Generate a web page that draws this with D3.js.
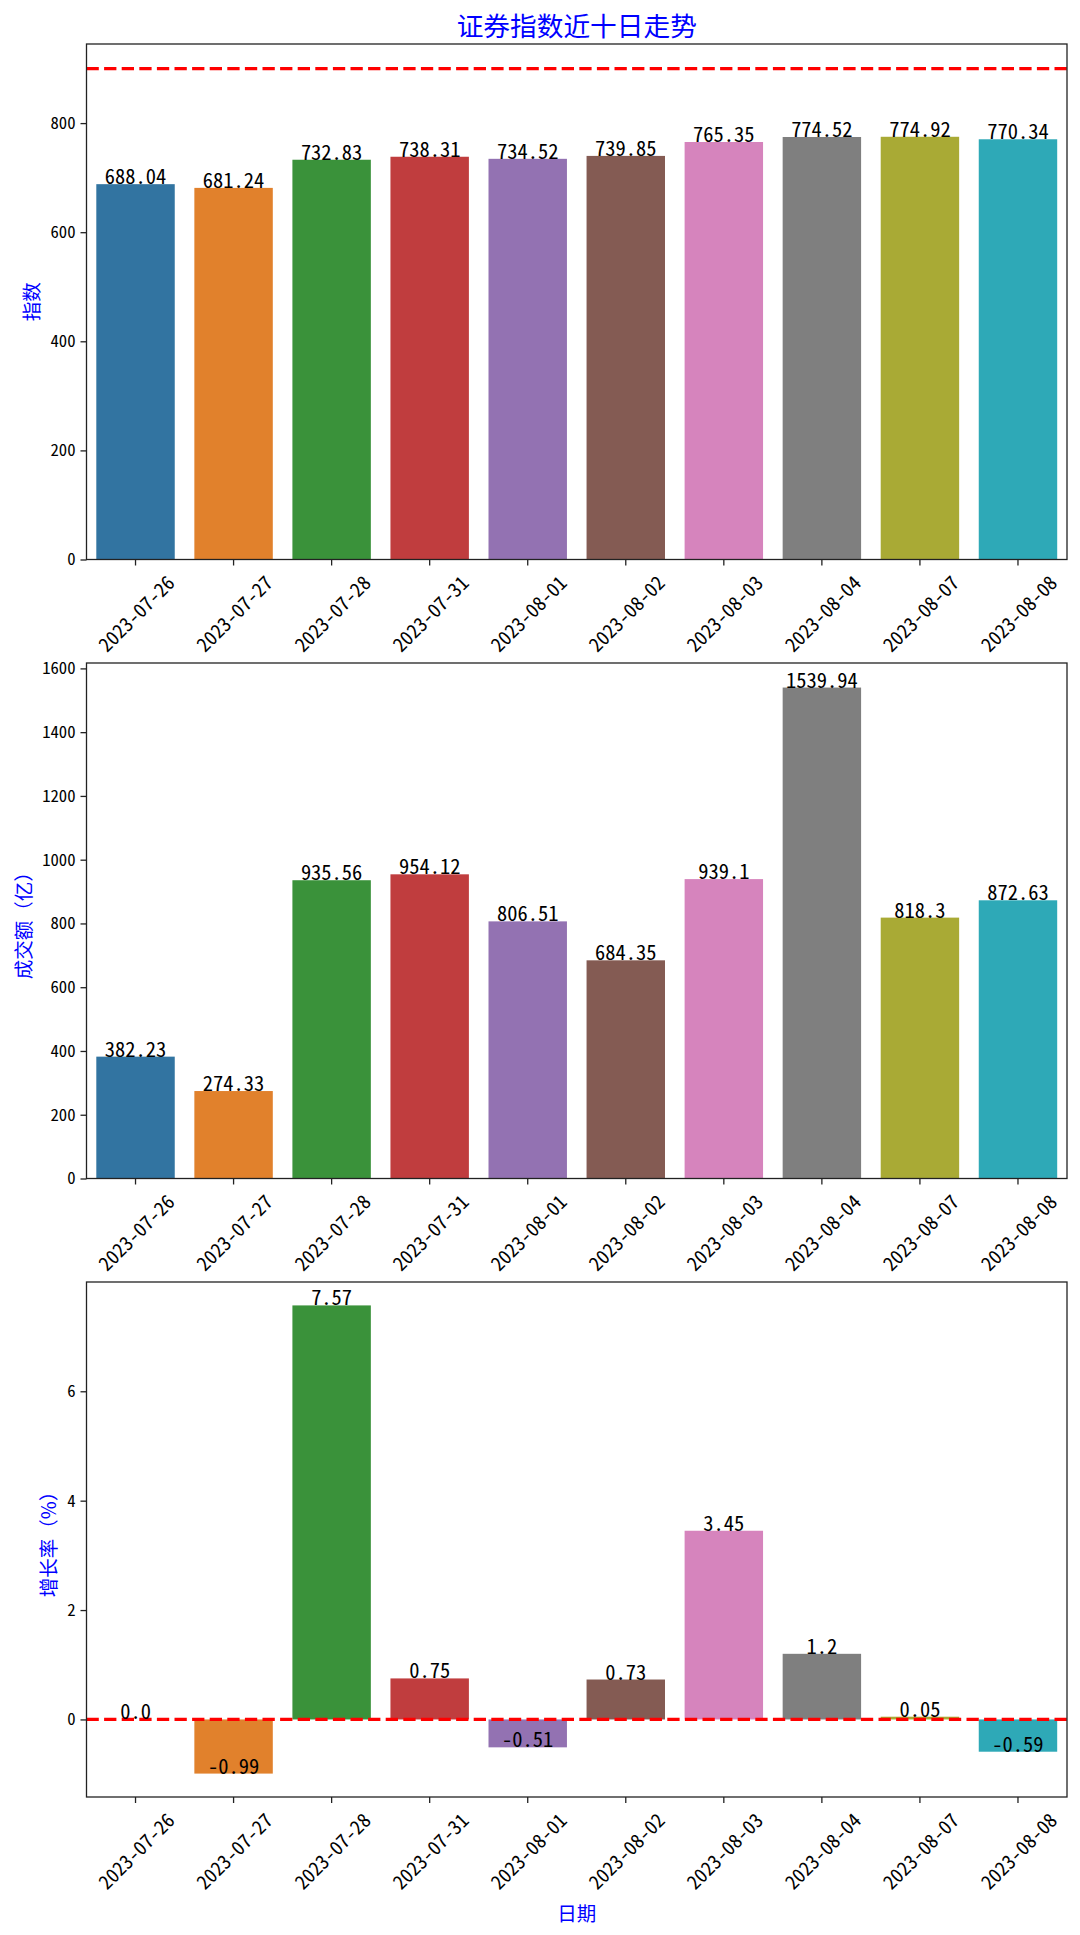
<!DOCTYPE html>
<html>
<head>
<meta charset="utf-8">
<script src="https://cdn.jsdelivr.net/npm/d3@7"></script>
<style>
  html, body { margin: 0; padding: 0; background: #fff; }
  svg text { font-family: "Noto Sans CJK SC", "Noto Sans", sans-serif; }
  svg text.num, svg .tick text { font-feature-settings: "hwid" 1; }
</style>
</head>
<body>
<svg id="chart" width="1080" height="1935"></svg>
<script>
// ---- data ----
const dates = ["2023-07-26","2023-07-27","2023-07-28","2023-07-31","2023-08-01","2023-08-02","2023-08-03","2023-08-04","2023-08-07","2023-08-08"];
const indexValues = [688.04, 681.24, 732.83, 738.31, 734.52, 739.85, 765.35, 774.52, 774.92, 770.34];
const volumeValues = [382.23, 274.33, 935.56, 954.12, 806.51, 684.35, 939.1, 1539.94, 818.3, 872.63];
const growthValues = [0.0, -0.99, 7.57, 0.75, -0.51, 0.73, 3.45, 1.2, 0.05, -0.59];
const indexTicks = [0, 200, 400, 600, 800];
const volumeTicks = [0, 200, 400, 600, 800, 1000, 1200, 1400, 1600];
const growthTicks = [0, 2, 4, 6];
const indexRefLine = 900;
const growthRefLine = 0;
const barColors = ["#3274a1","#e1812c","#3a923a","#c03d3e","#9372b2","#845b53","#d684bd","#7f7f7f","#a9aa35","#2ea9b7"];
const titleText = "证券指数近十日走势";
const yLabels = ["指数", "成交额（亿）", "增长率（%）"];
const xLabelText = "日期";

// ---- layout ----
const svg = d3.select("#chart");
const left = 86.5, right = 1067;
const panels = [
  { top: 44, bottom: 559.5, values: indexValues, ticks: indexTicks, ref: indexRefLine, label: yLabels[0] },
  { top: 663, bottom: 1178.5, values: volumeValues, ticks: volumeTicks, ref: null, label: yLabels[1] },
  { top: 1282, bottom: 1797, values: growthValues, ticks: growthTicks, ref: growthRefLine, label: yLabels[2] }
];
const xTickFont = 19.5;

function pyStr(v) { return Number.isInteger(v) ? v.toFixed(1) : String(v); }

const x = d3.scaleBand().domain(dates).range([left, right]).paddingInner(0.2).paddingOuter(0.1);

panels.forEach((p) => {
  const vals = p.values.slice();
  if (p.ref !== null) vals.push(p.ref);
  const dataLo = d3.min(vals), dataHi = d3.max(vals);
  let dLo, dHi;
  if (dataLo < 0) {
    const r = dataHi - dataLo;
    dLo = dataLo - 0.05 * r; dHi = dataHi + 0.05 * r;
  } else {
    dLo = 0; dHi = dataHi * 1.05;
  }
  const y = d3.scaleLinear().domain([dLo, dHi]).range([p.bottom, p.top]);
  const g = svg.append("g");

  // bars
  g.selectAll("rect.bar").data(p.values).enter().append("rect")
    .attr("class", "bar")
    .attr("x", (d, i) => x(dates[i]))
    .attr("width", x.bandwidth())
    .attr("y", d => Math.min(y(d), y(0)))
    .attr("height", d => Math.abs(y(d) - y(0)))
    .attr("fill", (d, i) => barColors[i]);

  // reference line
  if (p.ref !== null) {
    g.append("line")
      .attr("x1", left).attr("x2", right)
      .attr("y1", y(p.ref)).attr("y2", y(p.ref))
      .attr("stroke", "#ff0000").attr("stroke-width", 3.3)
      .attr("stroke-dasharray", "12.3,5.3");
  }

  // value labels
  g.selectAll("text.val").data(p.values).enter().append("text")
    .attr("class", "val num")
    .attr("x", (d, i) => x(dates[i]) + x.bandwidth() / 2)
    .attr("y", d => y(d))
    .attr("text-anchor", "middle")
    .attr("font-size", 20.5)
    .attr("fill", "#000")
    .text(d => pyStr(d));

  // y axis
  const yAxis = g.append("g")
    .attr("transform", `translate(${left},0)`)
    .call(d3.axisLeft(y).tickValues(p.ticks).tickSize(6).tickPadding(5).tickFormat(d3.format("d")));
  yAxis.select(".domain").remove();
  yAxis.selectAll(".tick line").attr("stroke", "#222").attr("stroke-width", 1.3);
  yAxis.selectAll(".tick text").attr("font-size", 16.7).attr("fill", "#000").attr("font-family", null);

  // x axis
  const xAxis = g.append("g")
    .attr("transform", `translate(0,${p.bottom})`)
    .call(d3.axisBottom(x).tickSize(6).tickFormat(""));
  xAxis.select(".domain").remove();
  xAxis.selectAll(".tick line").attr("stroke", "#222").attr("stroke-width", 1.3);
  const xt = g.selectAll("text.xt").data(dates).enter().append("text")
    .attr("class", "xt num")
    .attr("text-anchor", "middle")
    .attr("dominant-baseline", "central")
    .attr("font-size", xTickFont)
    .attr("fill", "#000")
    .text(d => d);
  xt.each(function(d) {
    const L = this.getComputedTextLength();
    const half = (L + xTickFont) * Math.SQRT1_2 / 2;
    d3.select(this).attr("transform",
      `translate(${x(d) + x.bandwidth() / 2},${p.bottom + 12 + half}) rotate(-45)`);
  });

  // frame
  g.append("rect")
    .attr("x", left).attr("y", p.top)
    .attr("width", right - left).attr("height", p.bottom - p.top)
    .attr("fill", "none").attr("stroke", "#222").attr("stroke-width", 1.3);

  // y label
  const bb = yAxis.node().getBBox();
  const lx = left + bb.x - 10 - 10;
  g.append("text")
    .attr("transform", `translate(${lx},${(p.top + p.bottom) / 2}) rotate(-90)`)
    .attr("text-anchor", "middle")
    .attr("dominant-baseline", "central")
    .attr("font-size", 19.5)
    .attr("fill", "#0000ff")
    .text(p.label);
});

// title
svg.append("text")
  .attr("x", (left + right) / 2).attr("y", 36)
  .attr("text-anchor", "middle")
  .attr("font-size", 26.7)
  .attr("fill", "#0000ff")
  .text(titleText);

// x label
svg.append("text")
  .attr("x", (left + right) / 2).attr("y", 1921)
  .attr("text-anchor", "middle")
  .attr("font-size", 19.5)
  .attr("fill", "#0000ff")
  .text(xLabelText);
</script>
</body>
</html>
